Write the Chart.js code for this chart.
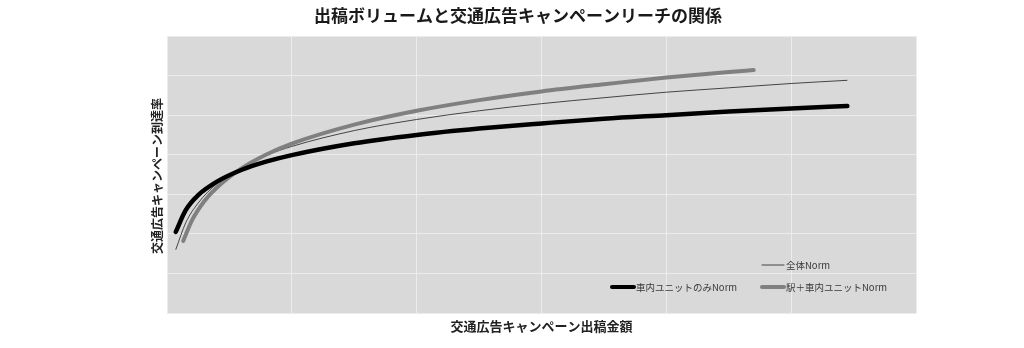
<!DOCTYPE html>
<html>
<head>
<meta charset="utf-8">
<script src="https://cdn.jsdelivr.net/npm/chart.js@4.4.1/dist/chart.umd.min.js"></script>
<style>
  html, body { margin: 0; padding: 0; background: #ffffff; }
  #wrap { width: 1024px; height: 348px; }
</style>
</head>
<body>
<div id="wrap"><canvas id="reachChart" width="1024" height="348"></canvas></div>
<script>
// 読み取った値（x：出稿金額の相対値、y：到達率の相対値）
const xShared = [0.07, 0.15, 0.25, 0.4, 0.6, 0.8, 1.0, 1.5, 2.0, 2.5, 3.0, 3.5, 4.0, 4.5, 5.0, 5.45];
const shanaiOnly = [2.05, 2.60, 2.98, 3.32, 3.62, 3.83, 3.99, 4.29, 4.50, 4.66, 4.79, 4.91, 5.00, 5.09, 5.17, 5.23];
const zentai = [1.60, 2.28, 2.78, 3.27, 3.69, 3.99, 4.21, 4.61, 4.89, 5.11, 5.29, 5.44, 5.58, 5.69, 5.80, 5.88];
const xEki = [0.13, 0.2, 0.3, 0.4, 0.6, 0.8, 1.0, 1.5, 2.0, 2.5, 3.0, 3.5, 4.0, 4.5, 4.7];
const ekiShanai = [1.82, 2.34, 2.83, 3.17, 3.66, 4.01, 4.28, 4.76, 5.11, 5.38, 5.60, 5.78, 5.95, 6.09, 6.14];

const seriesNames = ['全体Norm', '車内ユニットのみNorm', '駅＋車内ユニットNorm'];
const chartTitle = '出稿ボリュームと交通広告キャンペーンリーチの関係';
const xTitle = '交通広告キャンペーン出稿金額';
const yTitle = '交通広告キャンペーン到達率';

const toPoints = (xs, ys) => xs.map((x, i) => ({ x: x, y: ys[i] }));
const jpFont = '"Noto Sans CJK JP", "Noto Sans", sans-serif';

// プロット領域の背景
const plotBg = {
  id: 'plotBg',
  beforeDraw(chart) {
    const { ctx, chartArea: a } = chart;
    ctx.save();
    ctx.fillStyle = '#d9d9d9';
    ctx.fillRect(a.left, a.top, a.right - a.left, a.bottom - a.top);
    ctx.restore();
  }
};

// タイトル・軸ラベル・凡例
const textLayer = {
  id: 'textLayer',
  afterDraw(chart) {
    const { ctx, chartArea: a } = chart;
    ctx.save();
    ctx.textBaseline = 'middle';

    ctx.fillStyle = '#1a1a1a';
    ctx.textAlign = 'center';
    ctx.font = 'bold 17px ' + jpFont;
    ctx.fillText(chartTitle, 518, 16);

    ctx.fillStyle = '#222222';
    ctx.font = 'bold 13px ' + jpFont;
    ctx.fillText(xTitle, (a.left + a.right) / 2, 326);

    ctx.save();
    ctx.translate(157, 176);
    ctx.rotate(-Math.PI / 2);
    ctx.font = 'bold 12px ' + jpFont;
    ctx.fillText(yTitle, 0, 0);
    ctx.restore();

    // 凡例
    const items = [
      { label: seriesNames[0], x: 762, y: 265, color: '#444444', width: 1 },
      { label: seriesNames[1], x: 612, y: 287, color: '#000000', width: 4 },
      { label: seriesNames[2], x: 762, y: 287, color: '#808080', width: 4 }
    ];
    ctx.font = '9.5px ' + jpFont;
    ctx.textAlign = 'left';
    items.forEach(it => {
      ctx.beginPath();
      ctx.strokeStyle = it.color;
      ctx.lineWidth = it.width;
      ctx.lineCap = 'round';
      ctx.moveTo(it.x, it.y);
      ctx.lineTo(it.x + 22, it.y);
      ctx.stroke();
      ctx.fillStyle = '#3a3a3a';
      ctx.fillText(it.label, it.x + 24, it.y);
    });
    ctx.restore();
  }
};

new Chart(document.getElementById('reachChart'), {
  type: 'line',
  data: {
    datasets: [
      {
        label: seriesNames[1],
        data: toPoints(xShared, shanaiOnly),
        borderColor: '#000000',
        borderWidth: 4.5,
        borderCapStyle: 'round',
        pointRadius: 0,
        cubicInterpolationMode: 'monotone'
      },
      {
        label: seriesNames[2],
        data: toPoints(xEki, ekiShanai),
        borderColor: '#808080',
        borderWidth: 4,
        borderCapStyle: 'round',
        pointRadius: 0,
        cubicInterpolationMode: 'monotone'
      },
      {
        label: seriesNames[0],
        data: toPoints(xShared, zentai),
        borderColor: '#444444',
        borderWidth: 1,
        pointRadius: 0,
        cubicInterpolationMode: 'monotone'
      }
    ]
  },
  options: {
    responsive: false,
    animation: false,
    layout: { padding: { left: 167, right: 108, top: 36, bottom: 35 } },
    scales: {
      x: {
        type: 'linear',
        min: 0,
        max: 6,
        ticks: { display: false, stepSize: 1 },
        border: { display: false },
        grid: { color: '#ececec', lineWidth: 1, drawTicks: false }
      },
      y: {
        min: 0,
        max: 7,
        ticks: { display: false, stepSize: 1 },
        border: { display: false },
        grid: { color: '#ececec', lineWidth: 1, drawTicks: false }
      }
    },
    plugins: {
      legend: { display: false },
      title: { display: false },
      tooltip: { enabled: false }
    }
  },
  plugins: [plotBg, textLayer]
});
</script>
</body>
</html>
